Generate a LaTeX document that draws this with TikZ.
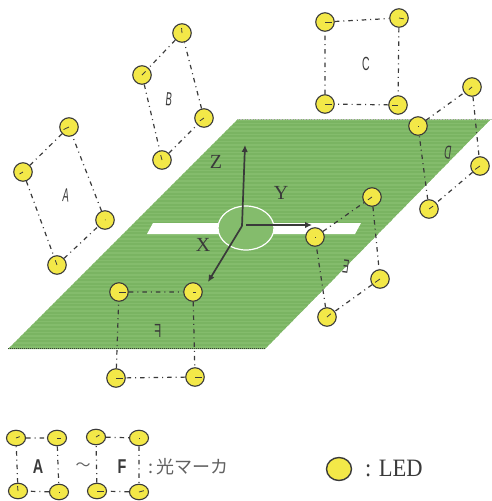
\documentclass[tikz,border=0pt]{standalone}
\usepackage{fontspec}
\setmainfont{Liberation Serif}
\setsansfont{Liberation Sans}
\newfontfamily\jpfont{Noto Sans CJK JP}
\definecolor{ledfill}{RGB}{243,232,72}
\definecolor{ink}{RGB}{58,58,58}
\definecolor{planeA}{RGB}{122,180,98}
\definecolor{planeB}{RGB}{132,188,108}
\usetikzlibrary{arrows.meta,shapes.geometric}
\tikzset{
  led/.style={circle,draw=ink,line width=1.1pt,fill=ledfill,minimum size=18.5pt,inner sep=0pt},
  legled/.style={ellipse,draw=ink,line width=1.1pt,fill=ledfill,minimum width=19pt,minimum height=15.5pt,inner sep=0pt},
  bigled/.style={ellipse,draw=ink,line width=1.4pt,fill=ledfill,minimum width=25pt,minimum height=23pt,inner sep=0pt},
  link/.style={draw=ink,line width=1.2pt,dash pattern=on 4.5pt off 4pt on 1pt off 4pt},
  ledtick/.style={draw=ink,line width=.8pt},
  axisline/.style={draw=ink,line width=1.7pt,-{Latex[length=7pt,width=6.5pt]}},
  axislabel/.style={font=\fontsize{20}{20}\selectfont,text=ink,inner sep=0pt},
  letter/.style={font=\sffamily\fontsize{19}{19}\selectfont,text=ink,inner sep=0pt},
  legletter/.style={inner sep=0pt,text=ink,font=\sffamily\bfseries\fontsize{20}{20}\selectfont,xscale=.72},
}
\begin{document}
\begin{tikzpicture}[x=1pt,y=-1pt]
\useasboundingbox (0,0) rectangle (491,501);
% plane
\begin{scope}
  \clip (238,119) -- (491,119) -- (265,349) -- (8,349) -- cycle;
  \fill[planeA] (0,115) rectangle (491,352);
  \foreach \yy in {120,123.6,...,350} \draw[planeB,line width=1.5pt] (0,\yy) -- (491,\yy);
\end{scope}
\draw[gray!50,line width=.6pt,densely dotted] (238,119) -- (491,119);
\draw[ink,line width=1pt,densely dotted] (8,348.5) -- (265,348.5);
% white strip and circle
\fill[white] (153,223) -- (361,223) -- (355,234) -- (147,234) -- cycle;
\filldraw[fill=planeB,draw=white,line width=1.2pt] (246,228) ellipse (28 and 22);
% axes
\coordinate (o) at (242,226);
\coordinate (ys) at (246,225);
\coordinate (zt) at (245,145);
\coordinate (yt) at (312,225);
\coordinate (xt) at (208,282);
\draw[axisline] (o) -- (zt);
\draw[axisline] (ys) -- (yt);
\draw[axisline] (o) -- (xt);
\node[axislabel] (lz) at (216,162) {Z};
\node[axislabel] (ly) at (281,193) {Y};
\node[axislabel] (lx) at (203,245) {X};
% LEDs
\foreach \n/\px/\py/\ang/\len in {
  a1/69/127/205/6, a2/23/172/210/4, a3/105/220/30/0.6, a4/57/265/110/5,
  b1/182/33/95/5,  b2/142/75/45/5,  b3/204/118/215/5,  b4/162/160/105/5,
  c1/325/22/0/7,   c2/399/18/-10/5, c3/325/104/0/7,    c4/398/105/180/6,
  d1/418/126/0/0.6,d2/472/87/220/4, d4/480/166/215/6,  d3/429/209/35/5,
  e1/315/237/0/0.6,e2/372/197/215/5,e4/380/279/215/6,  e3/327/317/40/5,
  f1/119/292/0/7,  f2/193/292/0/3,  f3/116/378/0/7,    f4/195/377/0/7}
{
  \node[led] (\n) at (\px,\py) {};
  \draw[ledtick] (\n.center) -- ++(\ang:\len pt);
}
\foreach \p in {a,b,c,d,e,f}
  \draw[link] (\p1) -- (\p2) (\p2) -- (\p4) (\p4) -- (\p3) (\p3) -- (\p1);
% marker letters
\node[letter,rotate=-6,xscale=.5] (ma) at (66,195) {A};
\node[letter,rotate=-6,xscale=.5] (mb) at (169,99) {B};
\node[letter,xscale=.55] (mc) at (366,64) {C};
\node[letter,rotate=-8,xscale=-.5] (md) at (448,153) {D};
\node[letter,rotate=-8,xscale=-.5] (me) at (346,267) {E};
\node[letter,xscale=-.6] (mf) at (158,331) {F};
% legend
\foreach \n/\px/\py/\ang/\len in {
  g1/16/438/20/4, g2/57/438/0/4, g3/18/491/95/5, g4/59/492/0/0.6,
  h1/96/437/30/4, h2/139/438/0/0.6, h3/97/491/0/7, h4/139/492/15/5}
{
  \node[legled] (\n) at (\px,\py) {};
  \draw[ledtick] (\n.center) -- ++(\ang:\len pt);
}
\foreach \p in {g,h}
  \draw[link] (\p1) -- (\p2) (\p2) -- (\p4) (\p4) -- (\p3) (\p3) -- (\p1);
\node[legletter] (la) at (38,467) {A};
\node[legletter] (lf) at (122,467) {F};
\node[inner sep=0pt,text=ink!80,font=\jpfont\fontsize{15}{15}\selectfont] (tl) at (83,467) {～};
\node[inner sep=0pt,anchor=west,text=ink!80,font=\jpfont\fontsize{18}{18}\selectfont] (lm) at (148,467) {:\,光マーカ};
\node[bigled] (bl) at (339,469) {};
\node[inner sep=0pt,text=ink,font=\fontsize{25}{25}\selectfont,xscale=.9,anchor=west] (ll) at (365,468) {: LED};
\end{tikzpicture}
\end{document}
